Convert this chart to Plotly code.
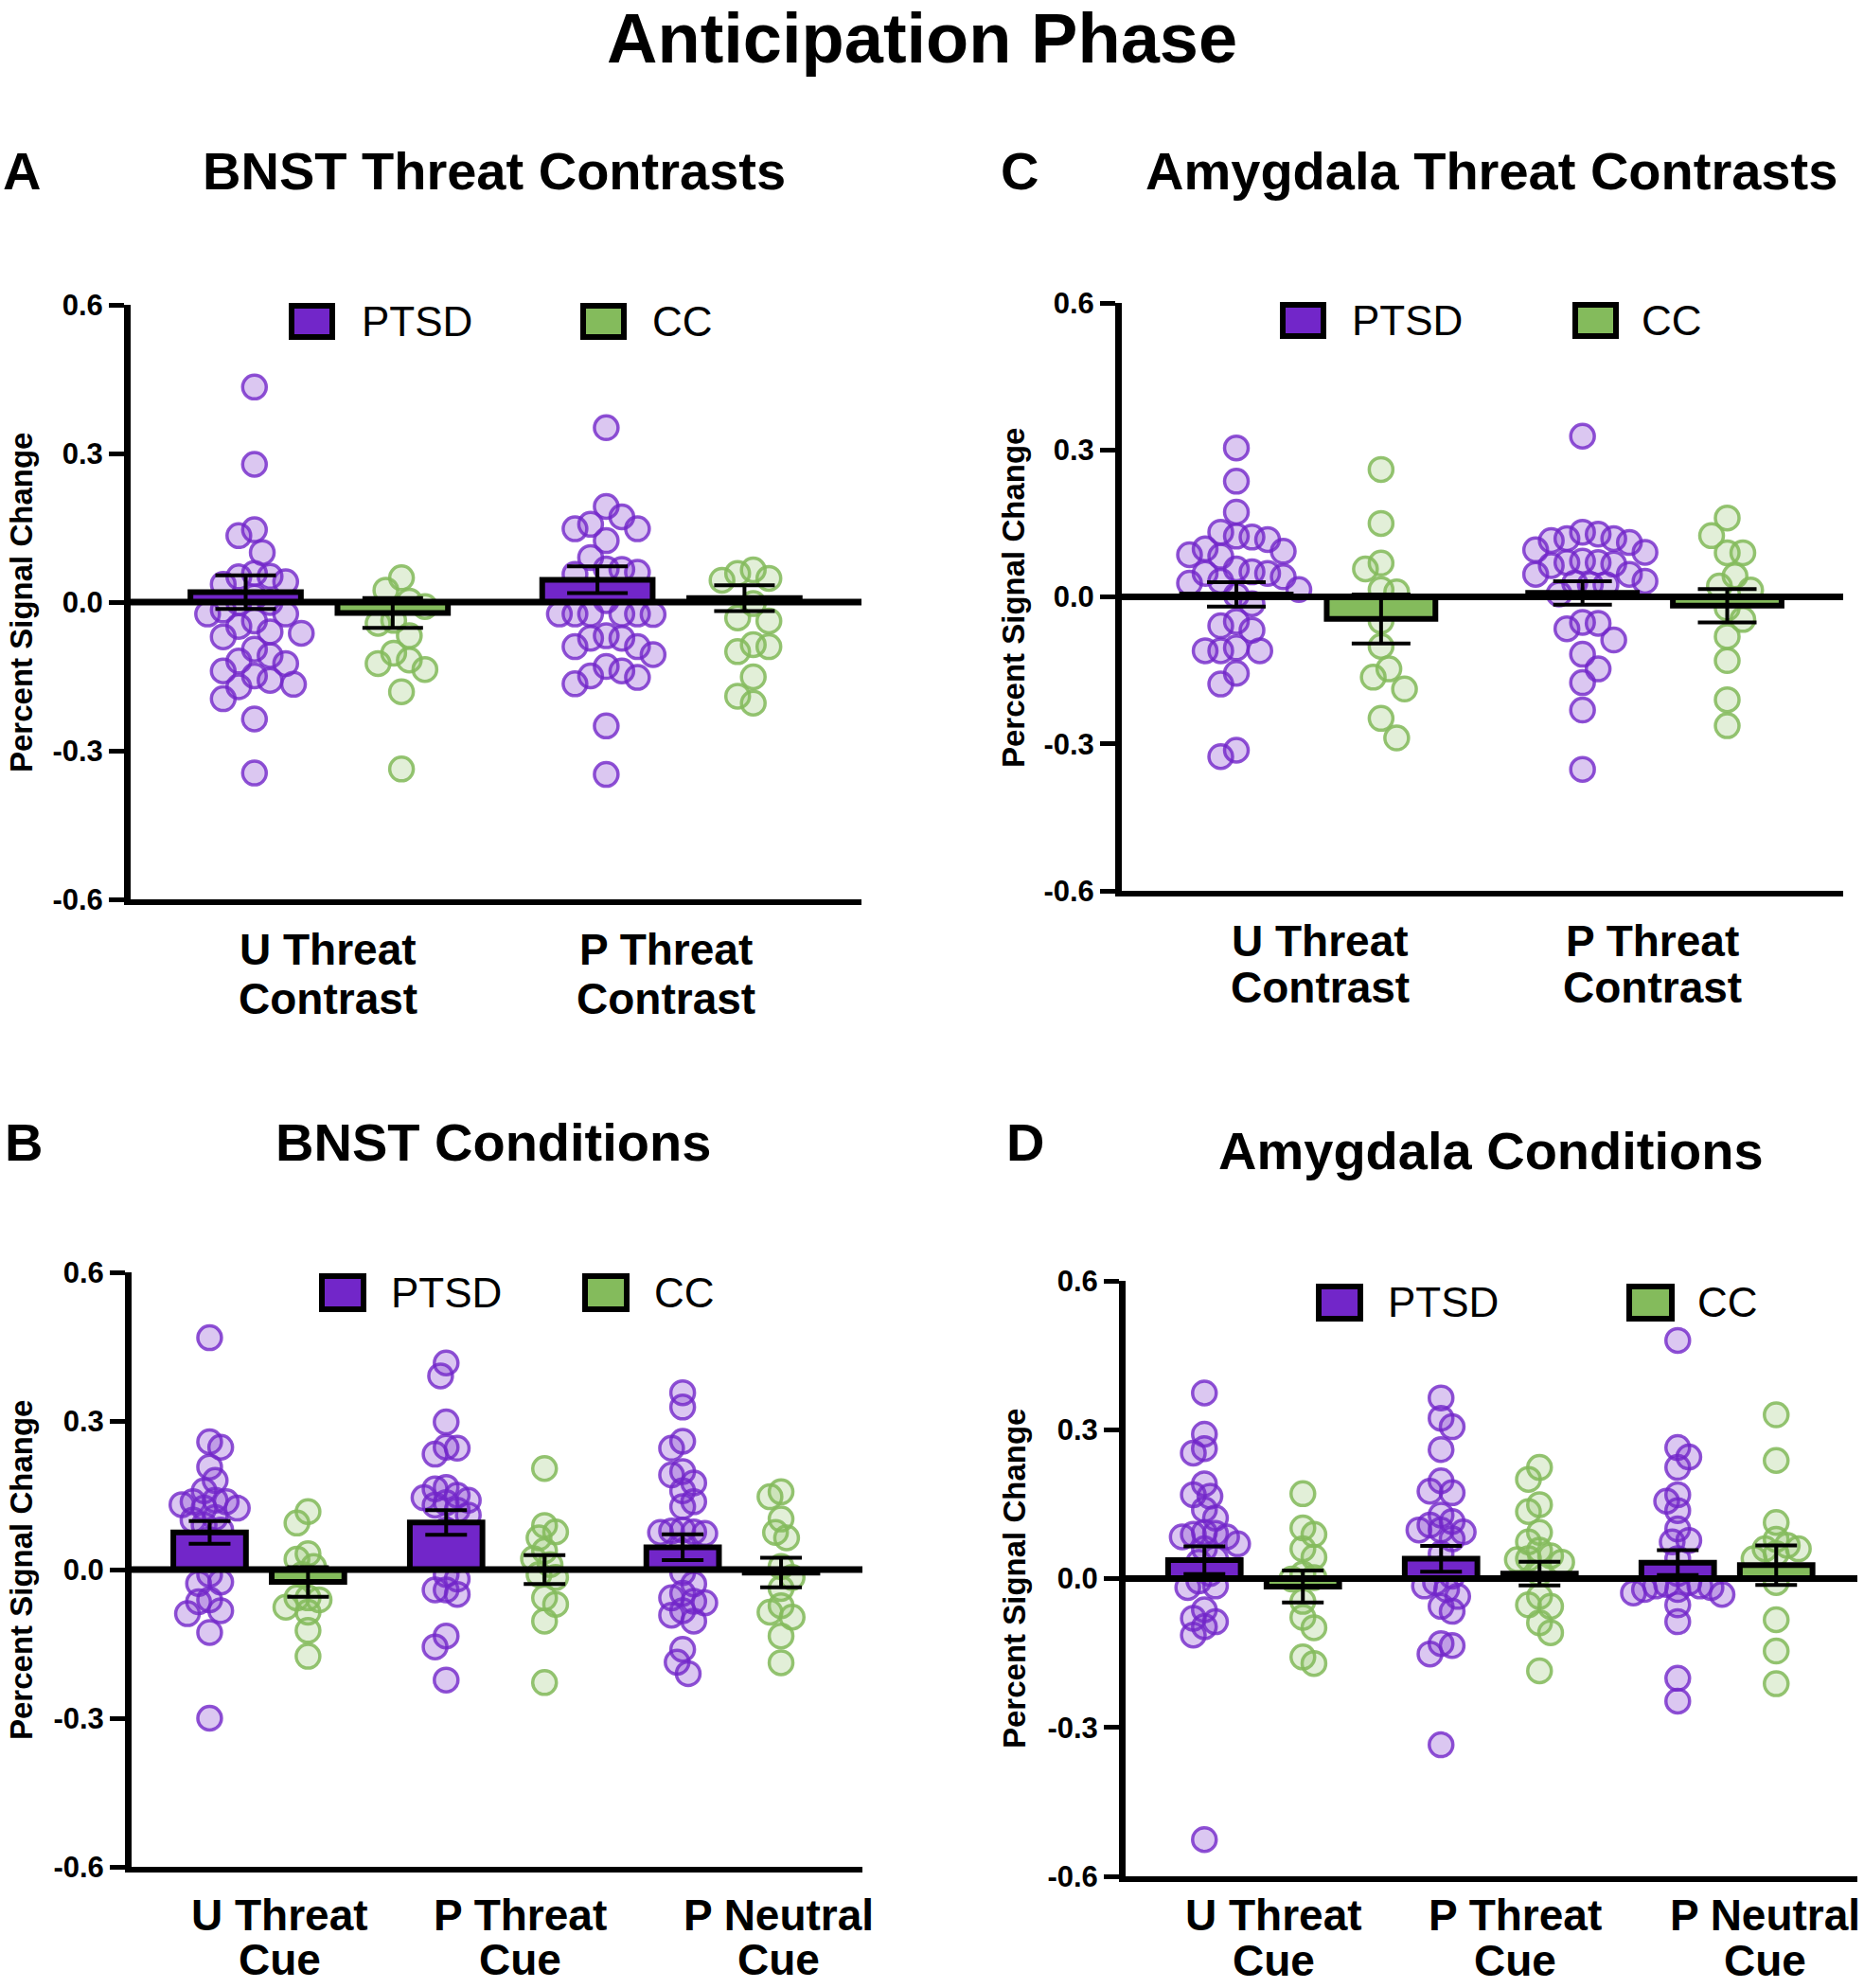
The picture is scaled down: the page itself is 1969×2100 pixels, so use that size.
import plotly.graph_objects as go

W, H = 1969, 2100

# ====================== DATA ======================
main_title = "Anticipation Phase"
group_names = ["PTSD", "CC"]
y_tick_vals = [-0.6, -0.3, 0.0, 0.3, 0.6]
y_tick_text = ["-0.6", "-0.3", "0.0", "0.3", "0.6"]
y_title = "Percent Signal Change"

# Panel A: BNST Threat Contrasts
A_title = "BNST Threat Contrasts"
A_categories = [["U Threat", "Contrast"], ["P Threat", "Contrast"]]
A_ptsd_mean = [0.020, 0.045]
A_ptsd_sem = [0.034, 0.027]
A_cc_mean = [-0.022, 0.008]
A_cc_sem = [0.030, 0.026]
A_ptsd_points = [
    [0.434, 0.278, 0.146, 0.134, 0.100, 0.058, 0.052, 0.051, 0.041, 0.036, 0.010, -0.001, -0.001,
     -0.016, -0.024, -0.024, -0.038, -0.049, -0.060, -0.063, -0.070, -0.095, -0.108, -0.119,
     -0.124, -0.139, -0.149, -0.158, -0.166, -0.171, -0.195, -0.236, -0.345],
    [0.352, 0.193, 0.172, 0.157, 0.148, 0.148, 0.124, 0.090, 0.067, 0.066, 0.060, 0.056, 0.003,
     -0.024, -0.024, -0.024, -0.024, -0.024, -0.025, -0.068, -0.073, -0.073, -0.090, -0.090,
     -0.106, -0.130, -0.139, -0.149, -0.152, -0.165, -0.250, -0.348],
]
A_cc_points = [
    [0.049, 0.024, 0.002, -0.009, -0.037, -0.043, -0.068, -0.103, -0.117, -0.124, -0.136, -0.181, -0.337],
    [0.065, 0.058, 0.048, 0.044, -0.003, -0.032, -0.038, -0.086, -0.090, -0.100, -0.151, -0.190, -0.204],
]

# Panel C: Amygdala Threat Contrasts
C_title = "Amygdala Threat Contrasts"
C_categories = [["U Threat", "Contrast"], ["P Threat", "Contrast"]]
C_ptsd_mean = [0.005, 0.008]
C_ptsd_sem = [0.025, 0.024]
C_cc_mean = [-0.045, -0.018]
C_cc_sem = [0.050, 0.034]
C_ptsd_points = [
    [0.304, 0.236, 0.173, 0.132, 0.124, 0.122, 0.117, 0.098, 0.093, 0.086, 0.083, 0.057, 0.051,
     0.048, 0.048, 0.041, 0.032, 0.028, 0.015, 0.003, -0.014, -0.050, -0.059, -0.068, -0.104,
     -0.110, -0.110, -0.110, -0.156, -0.178, -0.313, -0.326],
    [0.328, 0.132, 0.128, 0.119, 0.119, 0.115, 0.111, 0.096, 0.091, 0.073, 0.070, 0.070, 0.067,
     0.064, 0.046, 0.046, 0.032, 0.028, 0.025, 0.025, 0.006, -0.052, -0.054, -0.065, -0.088,
     -0.117, -0.147, -0.175, -0.231, -0.352],
]
C_cc_points = [
    [0.260, 0.150, 0.069, 0.057, 0.015, 0.010, -0.049, -0.101, -0.147, -0.164, -0.188, -0.248, -0.288],
    [0.161, 0.125, 0.090, 0.090, 0.043, 0.022, 0.014, -0.023, -0.046, -0.081, -0.130, -0.210, -0.263],
]

# Panel B: BNST Conditions
B_title = "BNST Conditions"
B_categories = [["U Threat", "Cue"], ["P Threat", "Cue"], ["P Neutral", "Cue"]]
B_ptsd_mean = [0.075, 0.095, 0.045]
B_ptsd_sem = [0.023, 0.025, 0.026]
B_cc_mean = [-0.025, 0.000, -0.006]
B_cc_sem = [0.030, 0.029, 0.030]
B_ptsd_points = [
    [0.468, 0.258, 0.247, 0.207, 0.180, 0.159, 0.140, 0.137, 0.137, 0.131, 0.124, 0.124, 0.105,
     0.100, 0.090, 0.080, 0.060, 0.040, 0.020, -0.010, -0.025, -0.028, -0.061, -0.065, -0.083,
     -0.089, -0.127, -0.300],
    [0.417, 0.391, 0.298, 0.247, 0.245, 0.233, 0.166, 0.163, 0.150, 0.145, 0.140, 0.135, 0.130,
     0.120, 0.110, 0.080, 0.060, 0.040, 0.020, -0.010, -0.019, -0.041, -0.041, -0.050, -0.134,
     -0.156, -0.223],
    [0.357, 0.328, 0.259, 0.245, 0.198, 0.191, 0.175, 0.159, 0.137, 0.127, 0.080, 0.078, 0.076,
     0.075, 0.073, 0.048, 0.020, -0.006, -0.029, -0.048, -0.057, -0.064, -0.067, -0.083, -0.092,
     -0.104, -0.161, -0.187, -0.210],
]
B_cc_points = [
    [0.117, 0.094, 0.032, 0.021, 0.006, -0.010, -0.057, -0.057, -0.061, -0.076, -0.086, -0.123, -0.175],
    [0.204, 0.089, 0.076, 0.064, 0.038, 0.022, 0.010, -0.010, -0.016, -0.057, -0.070, -0.104, -0.228],
    [0.157, 0.147, 0.102, 0.075, 0.064, 0.006, -0.016, -0.038, -0.073, -0.086, -0.096, -0.134, -0.188],
]

# Panel D: Amygdala Conditions
D_title = "Amygdala Conditions"
D_categories = [["U Threat", "Cue"], ["P Threat", "Cue"], ["P Neutral", "Cue"]]
D_ptsd_mean = [0.037, 0.040, 0.032]
D_ptsd_sem = [0.028, 0.026, 0.025]
D_cc_mean = [-0.016, 0.010, 0.027]
D_cc_sem = [0.032, 0.024, 0.040]
D_ptsd_points = [
    [0.374, 0.291, 0.262, 0.253, 0.191, 0.169, 0.166, 0.139, 0.122, 0.093, 0.091, 0.089, 0.084,
     0.084, 0.070, 0.060, 0.040, 0.033, 0.010, -0.005, -0.015, -0.018, -0.063, -0.080, -0.087,
     -0.097, -0.114, -0.526],
    [0.364, 0.323, 0.306, 0.260, 0.197, 0.176, 0.173, 0.128, 0.115, 0.108, 0.098, 0.098, 0.094,
     0.080, 0.050, 0.019, 0.005, -0.008, -0.015, -0.022, -0.036, -0.056, -0.066, -0.131, -0.135,
     -0.152, -0.335],
    [0.480, 0.264, 0.245, 0.224, 0.169, 0.156, 0.137, 0.100, 0.077, 0.074, 0.040, 0.010, -0.008,
     -0.012, -0.015, -0.015, -0.018, -0.022, -0.022, -0.029, -0.032, -0.053, -0.087, -0.201, -0.247],
]
D_cc_points = [
    [0.171, 0.102, 0.089, 0.060, 0.043, 0.009, 0.002, -0.001, -0.046, -0.078, -0.099, -0.158, -0.171],
    [0.224, 0.200, 0.149, 0.135, 0.093, 0.074, 0.057, 0.046, 0.040, 0.038, 0.033, 0.010, -0.036,
     -0.053, -0.056, -0.089, -0.109, -0.186],
    [0.330, 0.238, 0.113, 0.079, 0.067, 0.060, 0.060, 0.050, 0.040, -0.008, -0.083, -0.146, -0.212],
]

# ====================== STYLE / LAYOUT ======================
FONT = "Liberation Sans, Arial, Helvetica, sans-serif"
PTSD_BAR = "#7226C9"
CC_BAR = "#84BB5C"
PTSD_DOT_FILL = "rgba(114,38,201,0.26)"
PTSD_DOT_EDGE = "rgba(114,38,201,0.80)"
CC_DOT_FILL = "rgba(132,187,92,0.24)"
CC_DOT_EDGE = "rgba(132,187,92,0.88)"

panels = [
    dict(letter="A", title=A_title, cats=A_categories,
         pm=A_ptsd_mean, ps=A_ptsd_sem, cm=A_cc_mean, cs=A_cc_sem,
         pp=A_ptsd_points, cp=A_cc_points,
         xpx=(138, 910), ypx=(322, 950), xr=(-0.536, 1.5416), d=0.209, bw=0.314, capw=32,
         shift=0.025, gx=16.5, gy=25,
         letter_pos=(23, 181), title_pos=(522, 180),
         ytitle_pos=(22, 637),
         lab_x=[346, 703], lab_y=(1003, 1055),
         leg=dict(p_sq=(305, 320, 354, 359), p_tx=380, c_sq=(613, 320, 662, 359), c_tx=687, y=339)),
    dict(letter="C", title=C_title, cats=C_categories,
         pm=C_ptsd_mean, ps=C_ptsd_sem, cm=C_cc_mean, cs=C_cc_sem,
         pp=C_ptsd_points, cp=C_cc_points,
         xpx=(1185, 1947), ypx=(320, 941), xr=(-0.540, 1.544), d=0.209, bw=0.314, capw=31,
         shift=0.0, gx=16.5, gy=25,
         letter_pos=(1077, 181), title_pos=(1575, 180),
         ytitle_pos=(1070, 632),
         lab_x=[1394, 1745], lab_y=(994, 1043),
         leg=dict(p_sq=(1352, 319, 1401, 358), p_tx=1426, c_sq=(1661, 319, 1710, 358), c_tx=1732, y=338)),
    dict(letter="B", title=B_title, cats=B_categories,
         pm=B_ptsd_mean, ps=B_ptsd_sem, cm=B_cc_mean, cs=B_cc_sem,
         pp=B_ptsd_points, cp=B_cc_points,
         xpx=(139, 911), ypx=(1344, 1972), xr=(-0.538, 2.552), d=0.208, bw=0.307, capw=22,
         shift=0.0, gx=11.7, gy=15,
         letter_pos=(25, 1206), title_pos=(521, 1206),
         ytitle_pos=(22, 1659),
         lab_x=[295, 549, 822], lab_y=(2023, 2070),
         leg=dict(p_sq=(337, 1345, 387, 1386), p_tx=411, c_sq=(615, 1345, 665, 1386), c_tx=689, y=1365)),
    dict(letter="D", title=D_title, cats=D_categories,
         pm=D_ptsd_mean, ps=D_ptsd_sem, cm=D_cc_mean, cs=D_cc_sem,
         pp=D_ptsd_points, cp=D_cc_points,
         xpx=(1189, 1962), ypx=(1353, 1982), xr=(-0.541, 2.551), d=0.208, bw=0.307, capw=22,
         shift=0.0, gx=11.7, gy=15,
         letter_pos=(1083, 1206), title_pos=(1575, 1215),
         ytitle_pos=(1071, 1668),
         lab_x=[1345, 1600, 1864], lab_y=(2023, 2071),
         leg=dict(p_sq=(1390, 1356, 1440, 1396), p_tx=1464, c_sq=(1718, 1356, 1769, 1396), c_tx=1791, y=1375)),
]


def px2x(px):
    return px / W


def px2y(py):
    return 1 - py / H


def swarm_offsets(vals, gx, gy, ypx_per_unit):
    """Beeswarm layout: x offsets (pixels) on a half-grid; points keep an elliptical gap gx x gy."""
    n = len(vals)
    order = sorted(range(n), key=lambda i: -vals[i])
    placed = []
    offs = [0.0] * n
    half = gx / 2.0
    flip = 1
    for i in order:
        y = vals[i] * ypx_per_unit
        cands = [0.0]
        for m in range(1, 60):
            cands += [flip * m * half, -flip * m * half]
        chosen = 0.0
        for c in cands:
            if all(((c - px) / gx) ** 2 + ((y - py) / gy) ** 2 >= 1 - 1e-6 for px, py in placed):
                chosen = c
                break
        placed.append((chosen, y))
        offs[i] = chosen
        flip = -flip
    return offs


fig = go.Figure()
layout = dict(
    width=W, height=H, margin=dict(l=0, r=0, t=0, b=0),
    paper_bgcolor="white", plot_bgcolor="white",
    barmode="overlay", showlegend=False,
    font=dict(family=FONT, color="black"),
)
annotations = []
shapes = []

for k, p in enumerate(panels, start=1):
    ko = k + 4
    xa = "x" if k == 1 else f"x{k}"
    ya = "y" if k == 1 else f"y{k}"
    xo, yo = f"x{ko}", f"y{ko}"
    x0px, x1px = p["xpx"]
    y0px, y1px = p["ypx"]
    xr = p["xr"]
    xdom = [px2x(x0px), px2x(x1px)]
    ydom = [px2y(y1px), px2y(y0px)]
    xpx_unit = (x1px - x0px) / (xr[1] - xr[0])
    ypx_unit = (y1px - y0px) / 1.2
    ncat = len(p["cats"])

    # --- individual points (beeswarm), drawn under the bars ---
    for pts_list, sign, fill, edge in ((p["pp"], -1, PTSD_DOT_FILL, PTSD_DOT_EDGE),
                                       (p["cp"], 1, CC_DOT_FILL, CC_DOT_EDGE)):
        xs, ys = [], []
        for i, vals in enumerate(pts_list):
            offs = swarm_offsets(vals, p["gx"], p["gy"], ypx_unit)
            for v, o in zip(vals, offs):
                xs.append(i + sign * p["d"] + p["shift"] + o / xpx_unit)
                ys.append(v)
        fig.add_trace(go.Scatter(
            x=xs, y=ys, mode="markers", xaxis=xa, yaxis=ya, hoverinfo="skip",
            marker=dict(size=25, color=fill, line=dict(color=edge, width=3.5)),
        ))

    # --- bars with SEM error bars (overlay axes so they sit above the points) ---
    for means, sems, sign, col, name in ((p["pm"], p["ps"], -1, PTSD_BAR, group_names[0]),
                                         (p["cm"], p["cs"], 1, CC_BAR, group_names[1])):
        fig.add_trace(go.Bar(
            x=[i + sign * p["d"] for i in range(ncat)], y=means, width=p["bw"],
            name=name, xaxis=xo, yaxis=yo, hoverinfo="skip",
            marker=dict(color=col, line=dict(color="black", width=6)),
            error_y=dict(type="data", array=sems, visible=True, color="black",
                         thickness=4, width=p["capw"]),
        ))

    axkey = "xaxis" if k == 1 else f"xaxis{k}"
    aykey = "yaxis" if k == 1 else f"yaxis{k}"
    layout[axkey] = dict(
        domain=xdom, range=list(xr), anchor=ya, showline=True, linewidth=6, linecolor="black",
        ticks="", showticklabels=False, showgrid=False, zeroline=False, automargin=False,
        fixedrange=True,
    )
    layout[aykey] = dict(
        domain=ydom, range=[-0.6, 0.6], anchor=xa, showline=True, linewidth=7, linecolor="black",
        tickmode="array", tickvals=y_tick_vals, ticktext=[f"<b>{t}</b>" for t in y_tick_text],
        ticks="outside", ticklen=16, tickwidth=5, tickcolor="black",
        tickfont=dict(size=31, color="black", family=FONT),
        showgrid=False, zeroline=False, automargin=False, fixedrange=True,
    )
    layout[f"xaxis{ko}"] = dict(overlaying=xa, range=list(xr), anchor=yo, visible=False,
                                 showgrid=False, zeroline=False, fixedrange=True)
    layout[f"yaxis{ko}"] = dict(overlaying=ya, range=[-0.6, 0.6], anchor=xo, visible=False,
                                 showgrid=False, zeroline=False, fixedrange=True)

    # zero reference line across the panel (above everything)
    shapes.append(dict(type="line", xref=xa, yref=ya, x0=xr[0], x1=xr[1], y0=0, y1=0,
                       line=dict(color="black", width=7), layer="above"))

    # panel letter + title
    annotations.append(dict(text=f"<b>{p['letter']}</b>", x=px2x(p["letter_pos"][0]),
                            y=px2y(p["letter_pos"][1]), xref="paper", yref="paper",
                            showarrow=False, xanchor="center", yanchor="middle",
                            font=dict(size=56, family=FONT, color="black")))
    annotations.append(dict(text=f"<b>{p['title']}</b>", x=px2x(p["title_pos"][0]),
                            y=px2y(p["title_pos"][1]), xref="paper", yref="paper",
                            showarrow=False, xanchor="center", yanchor="middle",
                            font=dict(size=56, family=FONT, color="black")))
    # y-axis title
    annotations.append(dict(text=f"<b>{y_title}</b>", x=px2x(p["ytitle_pos"][0]),
                            y=px2y(p["ytitle_pos"][1]), xref="paper", yref="paper",
                            showarrow=False, xanchor="center", yanchor="middle", textangle=-90,
                            font=dict(size=33, family=FONT, color="black")))
    # category labels (two lines)
    for i, lines in enumerate(p["cats"]):
        for j, line in enumerate(lines):
            annotations.append(dict(text=f"<b>{line}</b>", x=px2x(p["lab_x"][i]),
                                    y=px2y(p["lab_y"][j]), xref="paper", yref="paper",
                                    showarrow=False, xanchor="center", yanchor="middle",
                                    font=dict(size=46, family=FONT, color="black")))
    # legend (drawn as boxes + text)
    lg = p["leg"]
    for sq, col, tx, name in ((lg["p_sq"], PTSD_BAR, lg["p_tx"], group_names[0]),
                              (lg["c_sq"], CC_BAR, lg["c_tx"], group_names[1])):
        shapes.append(dict(type="rect", xref="paper", yref="paper",
                           x0=px2x(sq[0] + 3), x1=px2x(sq[2] - 3),
                           y0=px2y(sq[3] - 3), y1=px2y(sq[1] + 3),
                           fillcolor=col, line=dict(color="black", width=6), layer="above"))
        annotations.append(dict(text=name, x=px2x(tx), y=px2y(lg["y"]), xref="paper", yref="paper",
                                showarrow=False, xanchor="left", yanchor="middle",
                                font=dict(size=44, family=FONT, color="black")))

annotations.append(dict(text=f"<b>{main_title}</b>", x=px2x(974), y=px2y(41), xref="paper",
                        yref="paper", showarrow=False, xanchor="center", yanchor="middle",
                        font=dict(size=74, family=FONT, color="black")))

layout["annotations"] = annotations
layout["shapes"] = shapes
fig.update_layout(**layout)

fig.write_html("out.html", config={"displayModeBar": False},
               post_script="document.body.style.margin='0';")
